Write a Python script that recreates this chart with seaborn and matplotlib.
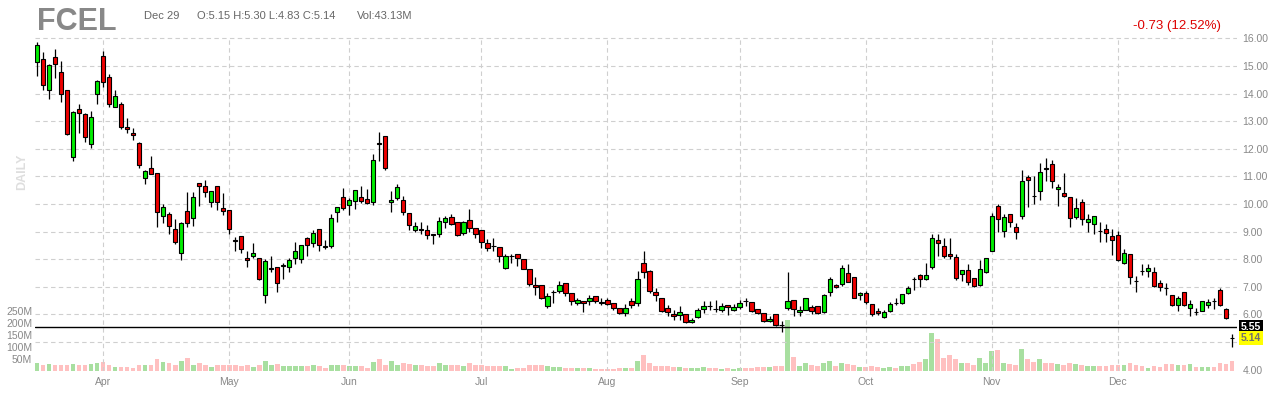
import matplotlib
matplotlib.use("Agg")
import matplotlib.pyplot as plt
import matplotlib.transforms as mtransforms
import numpy as np
import pandas as pd
import seaborn as sns

TICKER = "FCEL"
START, END = "2021-03-17", "2021-12-29"
HOLIDAYS = ["2021-04-02", "2021-05-31", "2021-07-05",
            "2021-09-06", "2021-11-25", "2021-12-24"]

OPENS = [
    15.13, 15.24, 14.12, 15.31, 14.77, 14.12, 11.71, 13.43, 13.25, 12.18,
    14.00, 15.35, 14.59, 13.50, 13.64, 12.78, 12.58, 12.20, 10.96, 11.29,
    11.14, 9.55, 9.62, 9.08, 8.21, 9.73, 9.48, 10.75, 10.64, 10.09,
    10.64, 9.84, 9.77, 8.68, 8.83, 8.06, 8.10, 8.03, 6.69, 7.66,
    7.70, 7.76, 7.70, 8.03, 7.99, 8.76, 8.57, 9.08, 8.47, 8.48,
    9.72, 10.27, 9.98, 10.11, 10.27, 10.17, 10.07, 12.20, 12.48, 10.06,
    10.22, 10.16, 9.69, 9.07, 9.08, 9.07, 8.90, 8.93, 9.36, 9.54,
    9.33, 8.96, 9.43, 9.14, 9.04, 8.60, 8.48, 8.46, 7.69, 8.12,
    8.18, 7.99, 7.63, 7.06, 7.08, 6.30, 6.80, 6.83, 7.12, 6.76,
    6.40, 6.47, 6.47, 6.65, 6.44, 6.51, 6.40, 6.22, 6.04, 6.47,
    6.43, 7.87, 7.59, 6.82, 6.59, 6.23, 6.02, 5.98, 6.01, 5.74,
    5.90, 6.19, 6.30, 6.19, 6.17, 6.34, 6.17, 6.27, 6.47, 6.46,
    6.20, 6.05, 5.75, 6.01, 5.63, 6.22, 6.52, 6.08, 6.17, 6.27,
    6.31, 6.07, 6.81, 7.07, 7.10, 7.49, 7.35, 6.70, 6.77, 6.37,
    6.13, 5.90, 6.12, 6.43, 6.41, 6.77, 7.28, 7.42, 7.27, 7.71,
    8.70, 8.48, 8.19, 8.09, 7.47, 7.62, 7.31, 7.07, 7.55, 8.30,
    9.94, 9.02, 9.65, 9.18, 9.57, 10.99, 10.29, 10.47, 11.29, 11.46,
    10.55, 10.39, 10.27, 9.53, 10.08, 9.33, 9.29, 9.02, 9.08, 8.83,
    8.89, 7.88, 8.20, 7.22, 7.58, 7.59, 7.55, 7.12, 6.94, 6.69,
    6.34, 6.80, 6.22, 6.10, 6.13, 6.35, 6.49, 6.90, 6.19, 5.15,
]
HIGHS = [
    15.88, 15.52, 15.09, 15.61, 15.18, 14.12, 13.38, 13.62, 13.31, 13.37,
    14.51, 15.55, 14.70, 14.12, 13.68, 13.10, 12.74, 12.23, 11.25, 11.74,
    11.14, 10.00, 9.72, 9.44, 9.33, 10.42, 10.42, 10.75, 10.86, 10.46,
    10.64, 10.39, 9.77, 8.79, 8.83, 8.28, 8.60, 8.03, 7.99, 8.13,
    7.70, 7.88, 8.06, 8.64, 8.50, 8.82, 9.05, 9.08, 8.69, 9.63,
    9.90, 10.59, 10.20, 10.49, 10.66, 10.53, 11.80, 12.61, 12.48, 10.47,
    10.71, 10.30, 9.69, 9.33, 9.33, 9.25, 8.90, 9.54, 9.55, 9.63,
    9.33, 9.39, 9.81, 9.14, 9.04, 8.72, 8.78, 8.46, 8.18, 8.19,
    8.20, 7.99, 7.63, 7.35, 7.08, 6.77, 6.87, 7.20, 7.12, 6.76,
    6.61, 6.47, 6.72, 6.65, 6.58, 6.58, 6.40, 6.22, 6.36, 6.58,
    7.57, 8.31, 7.61, 6.95, 6.59, 6.34, 6.17, 6.31, 6.01, 5.88,
    6.22, 6.48, 6.49, 6.53, 6.41, 6.34, 6.36, 6.53, 6.59, 6.46,
    6.20, 6.05, 5.93, 6.01, 5.77, 7.54, 6.52, 6.29, 6.59, 6.34,
    6.31, 6.75, 7.34, 7.10, 7.80, 7.83, 7.35, 6.82, 6.83, 6.37,
    6.25, 6.17, 6.45, 6.61, 6.73, 7.04, 7.34, 7.46, 7.88, 8.92,
    8.92, 8.78, 8.76, 8.20, 7.60, 7.82, 7.31, 7.96, 8.06, 9.66,
    10.00, 9.63, 9.65, 9.30, 11.22, 11.04, 11.01, 11.47, 11.65, 11.58,
    10.71, 11.11, 10.27, 10.23, 10.19, 9.63, 9.58, 9.33, 9.27, 9.08,
    9.01, 8.36, 8.20, 7.40, 7.84, 7.81, 7.72, 7.25, 7.13, 6.71,
    6.67, 6.82, 6.53, 6.22, 6.49, 6.55, 6.58, 6.94, 6.25, 5.30,
]
LOWS = [
    14.65, 14.13, 13.80, 14.57, 13.70, 12.50, 11.57, 12.58, 12.26, 12.04,
    13.63, 14.25, 13.52, 13.50, 12.70, 12.58, 12.32, 11.29, 10.73, 11.07,
    9.15, 9.30, 8.93, 8.54, 7.96, 9.18, 9.22, 9.94, 10.24, 9.88,
    9.77, 9.59, 8.93, 8.31, 8.24, 7.70, 8.03, 7.23, 6.43, 7.52,
    6.80, 7.30, 7.52, 7.81, 7.85, 8.12, 8.45, 8.28, 8.36, 8.41,
    9.35, 9.78, 9.60, 9.81, 10.05, 9.99, 9.96, 11.55, 11.25, 9.71,
    10.16, 9.60, 9.06, 8.99, 8.90, 8.72, 8.55, 8.80, 9.14, 9.25,
    8.84, 8.88, 8.98, 8.78, 8.42, 8.28, 8.28, 7.90, 7.64, 7.87,
    7.75, 7.63, 7.04, 6.70, 6.55, 6.24, 6.42, 6.77, 6.67, 6.35,
    6.35, 6.10, 6.33, 6.40, 6.35, 6.33, 6.17, 6.00, 5.96, 6.25,
    6.31, 7.32, 6.78, 6.47, 6.07, 5.93, 5.81, 5.78, 5.69, 5.69,
    5.86, 6.05, 6.17, 6.07, 6.10, 5.99, 6.12, 6.19, 6.31, 6.10,
    6.00, 5.72, 5.72, 5.57, 5.35, 6.17, 5.93, 5.95, 6.17, 6.01,
    6.01, 6.05, 6.65, 6.95, 7.04, 7.16, 6.59, 6.53, 6.39, 5.93,
    5.98, 5.87, 6.10, 6.35, 6.37, 6.73, 6.89, 7.01, 7.25, 7.64,
    8.10, 8.04, 8.00, 7.25, 7.20, 7.07, 7.00, 7.04, 7.49, 8.28,
    8.99, 8.81, 9.16, 8.72, 9.45, 9.89, 9.99, 10.13, 10.83, 10.59,
    9.93, 10.27, 9.17, 9.45, 9.25, 8.99, 8.93, 8.63, 8.63, 8.16,
    7.94, 7.83, 7.10, 6.80, 7.43, 7.37, 7.01, 6.83, 6.71, 6.31,
    6.13, 6.31, 5.95, 5.99, 6.11, 6.25, 6.19, 6.31, 5.85, 4.83,
]
CLOSES = [
    15.76, 14.30, 15.03, 15.09, 13.97, 12.53, 13.32, 13.28, 12.41, 13.17,
    14.44, 14.41, 13.61, 13.90, 12.78, 12.70, 12.49, 11.43, 11.18, 11.07,
    9.70, 9.88, 9.22, 8.61, 9.30, 9.30, 10.24, 10.64, 10.42, 10.46,
    10.09, 9.73, 9.08, 8.67, 8.36, 7.96, 8.21, 7.27, 7.92, 7.68,
    7.12, 7.78, 7.96, 8.28, 8.50, 8.52, 8.96, 8.51, 8.45, 9.48,
    9.90, 9.87, 10.13, 10.49, 10.11, 10.05, 11.58, 12.18, 11.29, 10.13,
    10.63, 9.72, 9.25, 9.22, 9.07, 8.86, 8.89, 9.40, 9.49, 9.29,
    8.88, 9.33, 9.14, 8.93, 8.63, 8.41, 8.47, 8.13, 8.10, 8.13,
    8.06, 7.63, 7.11, 6.98, 6.61, 6.65, 6.81, 7.05, 6.76, 6.48,
    6.51, 6.40, 6.61, 6.47, 6.43, 6.36, 6.24, 6.04, 6.25, 6.35,
    7.27, 7.53, 6.83, 6.69, 6.14, 6.08, 5.96, 6.10, 5.71, 5.81,
    6.17, 6.31, 6.30, 6.19, 6.30, 6.27, 6.27, 6.41, 6.47, 6.14,
    6.05, 5.77, 5.84, 5.60, 5.63, 6.49, 6.19, 6.17, 6.59, 6.14,
    6.05, 6.71, 7.29, 6.98, 7.67, 7.19, 6.59, 6.77, 6.45, 6.02,
    6.05, 6.10, 6.37, 6.43, 6.73, 6.95, 7.28, 7.28, 7.42, 8.76,
    8.60, 8.13, 8.12, 7.32, 7.60, 7.18, 7.04, 7.64, 8.04, 9.58,
    9.47, 9.54, 9.33, 9.00, 10.84, 10.87, 10.28, 11.17, 11.28, 10.83,
    10.63, 10.29, 9.49, 9.87, 9.47, 9.45, 9.58, 9.02, 8.96, 8.70,
    7.98, 8.22, 7.34, 7.22, 7.58, 7.67, 7.04, 6.98, 6.94, 6.35,
    6.59, 6.34, 6.37, 6.10, 6.47, 6.45, 6.49, 6.35, 5.87, 5.14,
]
# volume in millions of shares
VOLUMES = [
    35, 26, 30, 24, 26, 26, 30, 23, 23, 29,
    32, 36, 23, 17, 17, 17, 14, 23, 26, 23,
    48, 39, 32, 27, 42, 56, 26, 35, 27, 17,
    23, 23, 23, 26, 20, 26, 17, 26, 43, 26,
    30, 22, 20, 22, 20, 22, 26, 22, 14, 26,
    26, 26, 19, 19, 19, 14, 39, 48, 27, 43,
    23, 32, 29, 23, 23, 19, 19, 32, 23, 23,
    23, 19, 32, 23, 23, 19, 19, 19, 19, 10,
    13, 14, 23, 23, 23, 19, 17, 17, 13, 13,
    13, 13, 13, 9, 9, 9, 7, 13, 13, 13,
    43, 65, 35, 19, 22, 22, 17, 17, 13, 13,
    13, 17, 13, 13, 9, 13, 9, 13, 13, 13,
    17, 17, 17, 22, 22, 212, 60, 22, 35, 26,
    22, 35, 43, 22, 35, 30, 27, 17, 17, 22,
    17, 13, 17, 13, 22, 22, 30, 39, 48, 160,
    135, 56, 65, 48, 35, 35, 26, 56, 35, 82,
    86, 35, 30, 26, 91, 48, 39, 48, 35, 35,
    30, 26, 35, 30, 27, 22, 19, 22, 22, 26,
    26, 26, 35, 26, 22, 13, 22, 17, 30, 30,
    26, 26, 30, 17, 17, 17, 17, 35, 30, 43.13,
]

PRICE_TICKS = list(range(4, 17))
PRICE_GRID = list(range(5, 17))
VOLUME_TICKS = [50, 100, 150, 200, 250]
LEVEL_LINE = 5.55
CHANGE_TEXT = "-0.73 (12.52%)"

UP, DOWN = "#00ee00", "#ee0000"
VOL_COLORS = {"up": "#a8dfa0", "down": "#ffc0c0"}
GRID = "#cfcfcf"
LABEL = "#888888"


def main():
    sns.set_theme(style="white")
    plt.rcParams["font.family"] = ["Liberation Sans", "DejaVu Sans"]

    dates = pd.bdate_range(START, END)
    dates = dates[~dates.isin(pd.to_datetime(HOLIDAYS))]
    df = pd.DataFrame({
        "i": np.arange(len(dates)),
        "open": OPENS, "high": HIGHS, "low": LOWS, "close": CLOSES,
        "volume": VOLUMES,
    })
    df["dir"] = np.where(df["close"] > df["open"], "up", "down")
    month_first = [int(np.argmax(dates.month == m)) for m in range(4, 13)]
    month_labels = [dates[i].strftime("%b") for i in month_first]

    fig = plt.figure(figsize=(12.8, 4), dpi=100)
    vax = fig.add_axes([35 / 1280, 29 / 400, 1202 / 1280, 341 / 400])

    # volume bars (left scale)
    sns.barplot(data=df, x="i", y="volume", hue="dir", palette=VOL_COLORS,
                native_scale=True, dodge=False, saturation=1, errorbar=None,
                legend=False, width=0.8, linewidth=0, ax=vax)
    vax.set_ylim(0, 341 / 0.24)
    vax.set_yticks(VOLUME_TICKS)
    vax.set_yticklabels([f"{v}M" for v in VOLUME_TICKS])
    vax.set_xlabel("")
    vax.set_ylabel("")

    # price candles (right scale)
    pax = vax.twinx()
    p_lo = 4 + (369.6 - 371) / 27.6
    p_hi = 4 + (369.6 - 30) / 27.6
    pax.set_ylim(p_lo, p_hi)

    for p in PRICE_GRID:
        pax.axhline(p, color=GRID, lw=0.8, ls=(0, (4, 3)), zorder=1)
    pax.vlines(month_first, p_lo, 16, color=GRID, lw=0.8,
               linestyles=(0, (4, 3)), zorder=1)
    pax.axhline(LEVEL_LINE, color="black", lw=1.0, zorder=2)

    body_lo = np.minimum(df["open"], df["close"])
    body_h = (df["close"] - df["open"]).abs()
    colors = [UP if d == "up" else DOWN for d in df["dir"]]
    pax.vlines(df["i"], df["low"], df["high"], color="black", lw=0.9, zorder=3)
    pax.bar(df["i"], body_h, bottom=body_lo, width=0.72, color=colors,
            edgecolor="black", linewidth=0.8, zorder=4)

    # the 5.00 label sits under the last-price tag, so leave it blank
    pax.set_yticks(PRICE_TICKS)
    pax.set_yticklabels(["" if p == 5 else f"{p:.2f}" for p in PRICE_TICKS])

    vax.set_xlim(-0.33, len(df) - 1 + 0.83)
    vax.set_xticks(month_first)
    vax.set_xticklabels(month_labels)

    for ax in (vax, pax):
        for s in ax.spines.values():
            s.set_visible(False)
        ax.tick_params(length=0, labelsize=7.5, labelcolor=LABEL)
    vax.tick_params(axis="y", pad=2)
    vax.tick_params(axis="x", pad=4)
    pax.tick_params(axis="y", pad=4)

    # price tags on the right edge
    trans = mtransforms.blended_transform_factory(pax.transAxes, pax.transData)
    pax.text(1.003, LEVEL_LINE, f"{LEVEL_LINE:.2f}", transform=trans,
             ha="left", va="center", color="white", fontsize=7.5,
             fontweight="bold", clip_on=False, zorder=6,
             bbox=dict(boxstyle="square,pad=0.2", fc="black", ec="none"))
    pax.text(1.003, CLOSES[-1], f"{CLOSES[-1]:.2f}", transform=trans,
             ha="left", va="center", color="#707070", fontsize=7.5,
             fontweight="bold", clip_on=False, zorder=6,
             bbox=dict(boxstyle="square,pad=0.2", fc="#ffff00", ec="none"))

    # header
    last = df.iloc[-1]
    fig.text(37 / 1280, 1 - 30 / 400, TICKER, fontsize=22, fontweight="bold",
             color="#888888", ha="left", va="baseline")
    fig.text(144 / 1280, 1 - 19 / 400, dates[-1].strftime("%b %d"),
             fontsize=8, color="#666666", ha="left", va="baseline")
    fig.text(197 / 1280, 1 - 19 / 400,
             f"O:{last['open']:.2f} H:{last['high']:.2f} "
             f"L:{last['low']:.2f} C:{last['close']:.2f}",
             fontsize=8, color="#666666", ha="left", va="baseline")
    fig.text(357 / 1280, 1 - 19 / 400, f"Vol:{last['volume']:.2f}M",
             fontsize=8, color="#666666", ha="left", va="baseline")
    fig.text(1221 / 1280, 1 - 29 / 400, CHANGE_TEXT, fontsize=9.5,
             color="#dd0000", ha="right", va="baseline")
    fig.text(22 / 1280, 1 - 172 / 400, "DAILY", rotation=90, fontsize=9,
             fontweight="bold", color="#dedede", ha="center", va="center")

    fig.savefig("out.png", dpi=100)
    plt.close(fig)


if __name__ == "__main__":
    main()
